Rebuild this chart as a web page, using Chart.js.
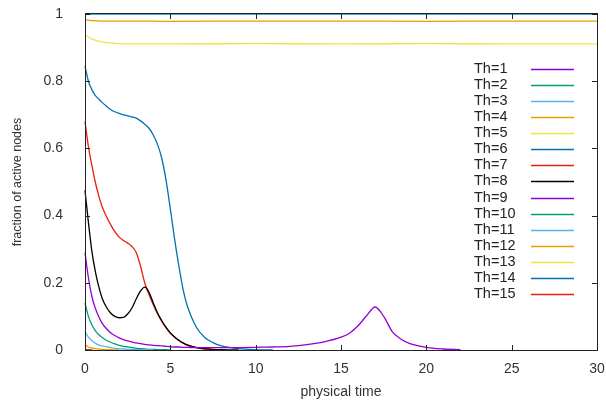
<!DOCTYPE html>
<html>
<head>
<meta charset="utf-8">
<script src="https://cdn.jsdelivr.net/npm/chart.js@4.4.1/dist/chart.umd.min.js"></script>
<style>
  html, body { margin: 0; padding: 0; background: #fff; }
  #wrap { width: 606px; height: 405px; }
</style>
</head>
<body>
<div id="wrap"><canvas id="threshold-chart"></canvas></div>
<script>
// time grids (physical time)
const tTop = [0, 0.5, 1, 1.5, 2, 3, 5, 10, 15, 20, 25, 30];
const tFine = [0, 0.2, 0.4, 0.6, 0.8, 1, 1.25, 1.5, 1.75, 2, 2.25, 2.5, 2.75, 3, 3.25, 3.5, 3.75, 4,
    4.25, 4.5, 4.75, 5, 5.25, 5.5, 5.75, 6, 6.5, 7, 7.5, 8, 9, 10, 11, 12, 13, 14, 15, 15.5, 16, 16.5,
    17, 17.5, 18, 18.5, 19, 20, 21, 22];

// fraction of active nodes per threshold
const th1 = [1, 1, 1, 1, 1, 1, 1, 1, 1, 1, 1, 1];
const th2 = [1, 1, 1, 1, 1, 1, 1, 1, 1, 1, 1, 1];
const th3 = [1, 1, 1, 1, 1, 1, 1, 1, 1, 1, 1, 1];
const th4 = [0.983, 0.98, 0.979, 0.979, 0.979, 0.979, 0.978, 0.979, 0.979, 0.978, 0.979, 0.979];
const th5 = [0.937, 0.924, 0.917, 0.914, 0.912, 0.911, 0.911, 0.912, 0.911, 0.912, 0.911, 0.911];
const th6 = [0.845, 0.8, 0.775, 0.758, 0.747, 0.737, 0.726, 0.716, 0.709, 0.704, 0.7, 0.697, 0.694,
    0.69, 0.682, 0.672, 0.66, 0.64, 0.612, 0.57, 0.505, 0.42, 0.33, 0.25, 0.18, 0.13, 0.07, 0.038,
    0.022, 0.012, 0.004, 0.001, 0];
const th7 = [0.68, 0.605, 0.55, 0.5, 0.46, 0.427, 0.398, 0.373, 0.352, 0.336, 0.326, 0.318, 0.308,
    0.29, 0.25, 0.2, 0.165, 0.135, 0.108, 0.085, 0.066, 0.05, 0.038, 0.028, 0.02, 0.014, 0.007, 0.003,
    0.001, 0];
const th8 = [0.475, 0.38, 0.295, 0.235, 0.19, 0.155, 0.128, 0.11, 0.1, 0.096, 0.097, 0.107, 0.125,
    0.152, 0.175, 0.187, 0.172, 0.14, 0.11, 0.087, 0.067, 0.051, 0.039, 0.029, 0.021, 0.015, 0.008,
    0.004, 0.002, 0.001, 0];
const th9 = [0.29, 0.215, 0.16, 0.125, 0.1, 0.08, 0.064, 0.051, 0.043, 0.036, 0.031, 0.027, 0.024,
    0.021, 0.019, 0.017, 0.015, 0.014, 0.013, 0.012, 0.011, 0.01, 0.009, 0.009, 0.008, 0.008, 0.007,
    0.007, 0.007, 0.007, 0.007, 0.008, 0.009, 0.011, 0.016, 0.024, 0.038, 0.05, 0.072, 0.102, 0.128,
    0.1, 0.055, 0.033, 0.02, 0.008, 0.003, 0.001];
const th10 = [0.14, 0.1, 0.075, 0.058, 0.046, 0.037, 0.029, 0.023, 0.018, 0.014, 0.011, 0.009, 0.007,
    0.005, 0.004, 0.003, 0.002, 0.002, 0.001, 0.001, 0.001, 0];
const th11 = [0.055, 0.038, 0.028, 0.02, 0.015, 0.012, 0.009, 0.007, 0.005, 0.004, 0.003, 0.002,
    0.002, 0.001, 0.001, 0.001, 0, 0];
const th12 = [0.015, 0.009, 0.006, 0.004, 0.003, 0.002, 0.001, 0.001, 0, 0];
const th13 = [0.002, 0.001, 0, 0];
const th14 = [0.001, 0, 0];
const th15 = [0.001, 0, 0];

const seriesNames = ["Th=1", "Th=2", "Th=3", "Th=4", "Th=5", "Th=6", "Th=7", "Th=8",
    "Th=9", "Th=10", "Th=11", "Th=12", "Th=13", "Th=14", "Th=15"];
const seriesTimes = [tTop, tTop, tTop, tTop, tTop, tFine, tFine, tFine, tFine, tFine, tFine, tFine,
    tFine, tFine, tFine];
const seriesValues = [th1, th2, th3, th4, th5, th6, th7, th8, th9, th10, th11, th12, th13, th14, th15];
const palette = ["#9400d3", "#009e73", "#56b4e9", "#e69f00", "#f0e442", "#0072b2", "#e51e10", "#000000"];

const xTicks = [0, 5, 10, 15, 20, 25, 30];
const yTicks = [0, 0.2, 0.4, 0.6, 0.8, 1];

const FONT = "'Liberation Sans', Arial, sans-serif";

// gnuplot-like frame, mirrored inward ticks and key
const gnuplotFrame = {
    id: "gnuplotFrame",
    afterDatasetsDraw(chart) {
        const { ctx, scales } = chart;
        const L = scales.x.left, R = scales.x.right, T = scales.y.top, B = scales.y.bottom;
        const tick = 5;
        ctx.save();
        ctx.strokeStyle = "#222";
        ctx.lineWidth = 1;
        ctx.beginPath();
        xTicks.forEach((v) => {
            const x = Math.round(scales.x.getPixelForValue(v)) + 0.5;
            ctx.moveTo(x, B); ctx.lineTo(x, B - tick);
            ctx.moveTo(x, T); ctx.lineTo(x, T + tick);
        });
        yTicks.forEach((v) => {
            const y = Math.round(scales.y.getPixelForValue(v)) + 0.5;
            ctx.moveTo(L, y); ctx.lineTo(L + tick, y);
            ctx.moveTo(R, y); ctx.lineTo(R - tick, y);
        });
        ctx.stroke();
        ctx.strokeRect(Math.round(L) + 0.5, Math.round(T) - 0.5, Math.round(R - L), Math.round(B - T) + 1);

        // key
        ctx.font = "14.5px " + FONT;
        ctx.textBaseline = "middle";
        ctx.textAlign = "left";
        chart.data.datasets.forEach((ds, i) => {
            const y = 69 + i * 16.07;
            ctx.fillStyle = "#222";
            ctx.fillText(ds.label, 474, y);
            ctx.strokeStyle = ds.borderColor;
            ctx.lineWidth = 1.3;
            ctx.beginPath();
            ctx.moveTo(531, Math.round(y) + 0.5);
            ctx.lineTo(574, Math.round(y) + 0.5);
            ctx.stroke();
        });
        ctx.restore();
    },
};

function initChart() {
    const canvas = document.getElementById("threshold-chart");
    const datasets = seriesNames.map((name, i) => ({
        label: name,
        data: seriesTimes[i].map((t, k) => ({ x: t, y: seriesValues[i][k] })),
        borderColor: palette[i % palette.length],
        borderWidth: 1.3,
        pointRadius: 0,
        cubicInterpolationMode: "monotone",
        clip: 4,
        order: seriesNames.length - i,
    }));

    new Chart(canvas, {
        type: "line",
        data: { datasets },
        options: {
            responsive: true,
            maintainAspectRatio: false,
            animation: false,
            layout: { padding: { top: 14, right: 9, left: 0, bottom: 0 } },
            plugins: {
                legend: { display: false },
                tooltip: { enabled: false },
            },
            scales: {
                x: {
                    type: "linear",
                    min: 0,
                    max: 30,
                    grid: { display: false },
                    border: { display: false },
                    afterBuildTicks: (s) => { s.ticks = xTicks.map((v) => ({ value: v })); },
                    afterFit: (s) => { s.height = 55; s.paddingLeft = 0; s.paddingRight = 0; },
                    ticks: { color: "#333", font: { family: FONT, size: 14 }, padding: 3, maxRotation: 0 },
                    title: {
                        display: true,
                        text: "physical time",
                        color: "#333",
                        font: { family: FONT, size: 14 },
                        padding: { top: 6 },
                    },
                },
                y: {
                    min: 0,
                    max: 1,
                    grid: { display: false },
                    border: { display: false },
                    afterBuildTicks: (s) => { s.ticks = yTicks.map((v) => ({ value: v })); },
                    afterFit: (s) => { s.width = 85; s.paddingTop = 0; s.paddingBottom = 0; },
                    ticks: {
                        color: "#333",
                        font: { family: FONT, size: 14 },
                        padding: 14,
                        callback: (v) => String(Number(v.toFixed(1))),
                    },
                    title: {
                        display: true,
                        text: "fraction of active nodes",
                        color: "#333",
                        font: { family: FONT, size: 12.5 },
                        padding: { bottom: 0, top: 10 },
                    },
                },
            },
        },
        plugins: [gnuplotFrame],
    });
}

document.addEventListener("DOMContentLoaded", () => {
    initChart();
});
</script>
</body>
</html>
